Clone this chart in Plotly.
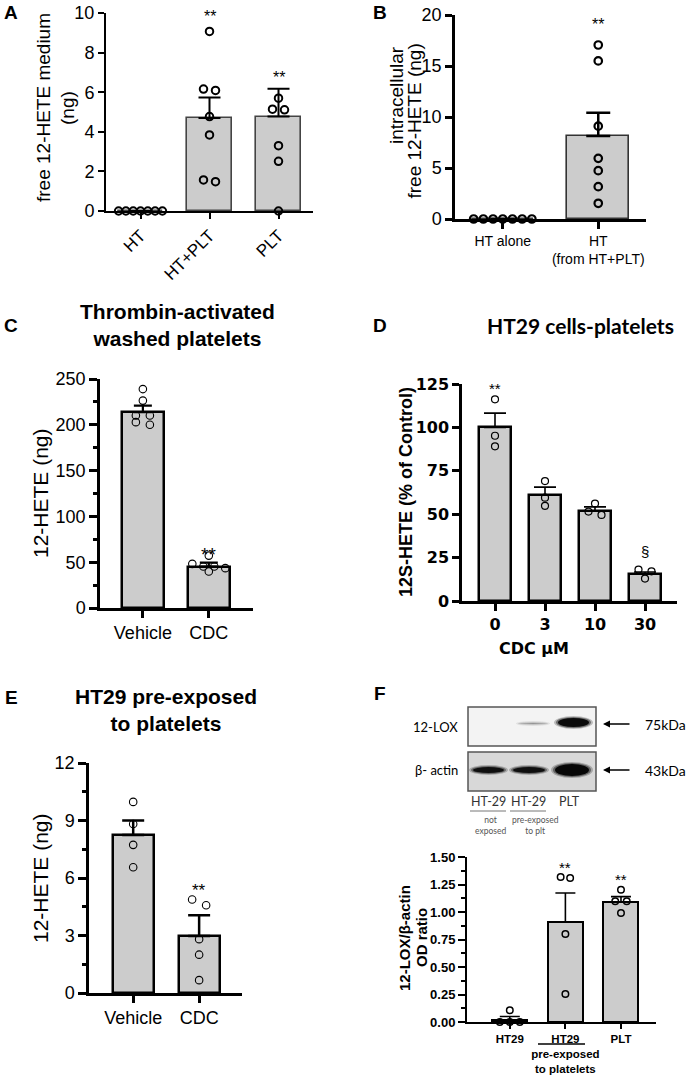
import plotly.graph_objects as go

W, H = 688, 1077


def fx(p):
    return p / W


def fy(p):
    return 1 - p / H


ARIAL = "Liberation Sans, Arial, sans-serif"
DEJA = "DejaVu Sans, sans-serif"
CALI = "Lato, sans-serif"
BAR_FILL = "#cccccc"

# ---------------- data ----------------
# Panel A
A_cats = ["HT", "HT+PLT", "PLT"]
A_mean = [0.0, 4.70, 4.77]
A_sem = [0.0, 1.03, 1.40]
A_pts_HT = [0.0, 0.0, 0.0, 0.0, 0.0, 0.0, 0.0]
A_pts_HTPLT = [9.07, 6.09, 6.16, 4.77, 3.84, 1.48, 1.57]
A_pts_PLT = [5.70, 5.14, 5.11, 3.30, 2.51, 0.0]
A_sig = ["", "**", "**"]
A_sig_y = [0, 10.05, 6.96]

# Panel B
B_cats = ["HT alone", "HT<br>(from HT+PLT)"]
B_mean = [0.0, 8.14]
B_sem = [0.0, 2.28]
B_pts_alone = [0.0, 0.0, 0.0, 0.0, 0.0, 0.0, 0.0]
B_pts_HT = [17.06, 15.5, 9.1, 5.95, 4.74, 3.17, 1.54]
B_sig = ["", "**"]
B_sig_y = [0, 19.5]

# Panel C
C_cats = ["Vehicle", "CDC"]
C_mean = [213.8, 45.3]
C_sem = [7.2, 4.3]
C_pts_veh = [239.0, 226.4, 210.1, 210.1, 200.0, 202.9]
C_pts_cdc = [57.2, 48.2, 39.9, 45.3, 43.5, 45.3]
C_sig = ["", "**"]
C_sig_y = [0, 64]

# Panel D
D_cats = ["0", "3", "10", "30"]
D_mean = [100.0, 61.1, 51.9, 15.6]
D_sem = [8.2, 4.5, 2.3, 1.1]
D_pts_0 = [116.2, 95.2, 89.1]
D_pts_3 = [69.1, 59.5, 54.8]
D_pts_10 = [56.1, 49.6, 51.5]
D_pts_30 = [18.1, 17.1, 12.9]
D_sig = ["**", "", "", "§"]
D_sig_y = [125, 0, 0, 28.3]

# Panel E
E_cats = ["Vehicle", "CDC"]
E_mean = [8.25, 2.98]
E_sem = [0.75, 1.07]
E_pts_veh = [9.97, 8.82, 7.73, 6.56]
E_pts_cdc = [4.58, 4.88, 2.81, 2.0, 0.67]
E_sig = ["", "**"]
E_sig_y = [0, 5.58]

# Panel F
F_cats = ["<b>HT29</b>", "<b>HT29<br>pre-exposed<br>to platelets</b>", "<b>PLT</b>"]
F_mean = [0.02, 0.909, 1.09]
F_sem = [0.03, 0.264, 0.05]
F_pts_HT29 = [0.106, 0.0, 0.0, 0.0]
F_pts_pre = [1.309, 1.318, 0.80, 0.255]
F_pts_PLT = [1.203, 1.097, 1.097, 0.991]
F_sig = ["", "**", "**"]
F_sig_y = [0, 1.445, 1.33]

# Western blot labels
blot_rows = ["12-LOX", "β- actin"]
blot_kda = ["75kDa", "43kDa"]
blot_lanes = ["HT-29", "HT-29", "PLT"]
blot_lane_sub = ["not<br>exposed", "pre-exposed<br>to plt", ""]


# ---------------- helpers ----------------
def swarm(vals, center, y_ppu, x_ppu, spacing, thresh):
    order = sorted(range(len(vals)), key=lambda i: -vals[i])
    rows = []
    for i in order:
        if rows and abs(vals[rows[-1][0]] - vals[i]) * y_ppu < thresh:
            rows[-1].append(i)
        else:
            rows.append([i])
    xs = [center] * len(vals)
    for row in rows:
        k = len(row)
        for j, i in enumerate(row):
            xs[i] = center + (j - (k - 1) / 2) * spacing / x_ppu
    return xs


fig = go.Figure()
layout_axes = {}
annotations = []
shapes = []


def panel(n, dom_x, dom_y, xr, yr, cats, means, sems, pts, sig, sig_y, st):
    xa = "x" if n == 1 else f"x{n}"
    ya = "y" if n == 1 else f"y{n}"
    xk = "xaxis" if n == 1 else f"xaxis{n}"
    yk = "yaxis" if n == 1 else f"yaxis{n}"
    idx = list(range(len(means)))
    fig.add_trace(go.Bar(
        x=idx, y=means, width=st["bw"], xaxis=xa, yaxis=ya,
        marker=dict(color=BAR_FILL, line=dict(color=st["bar_lc"], width=st["bar_lw"])),
        error_y=dict(type="data", symmetric=False, array=sems, arrayminus=[0] * len(sems),
                     color="black", thickness=st["eth"], width=st["ew"]),
        showlegend=False, hoverinfo="skip"))
    x_ppu = (dom_x[1] - dom_x[0]) / (xr[1] - xr[0])
    y_ppu = (dom_y[1] - dom_y[0]) / (yr[1] - yr[0])
    for i, vals in enumerate(pts):
        xs = swarm(vals, i, y_ppu, x_ppu, st["spacing"][i], st["thresh"])
        fig.add_trace(go.Scatter(
            x=xs, y=vals, mode="markers", xaxis=xa, yaxis=ya, cliponaxis=False,
            marker=dict(symbol="circle-open", size=st["ms"], color="black",
                        line=dict(width=st["mlw"], color="black")),
            showlegend=False, hoverinfo="skip"))
    # significance marks: y given in data units, converted to paper so that
    # marks at the very top of an axis are not hidden
    y_bot, y_top = fy(dom_y[1]), fy(dom_y[0])
    for i, (s, yv) in enumerate(zip(sig, sig_y)):
        if s:
            yp = y_bot + (yv - yr[0]) / (yr[1] - yr[0]) * (y_top - y_bot)
            annotations.append(dict(
                x=i, y=yp, xref=xa, yref="paper", text=s, showarrow=False,
                font=dict(family=ARIAL, size=st["sig_fs"], color="black"),
                xanchor="center", yanchor="middle",
                yshift=(-0.27 * st["sig_fs"] if s.startswith("*") else 0)))
    layout_axes[xk] = dict(
        domain=[fx(dom_x[0]), fx(dom_x[1])], range=xr, anchor=ya, automargin=False,
        showline=True, linecolor="black", linewidth=st["alw"],
        ticks="outside", ticklen=st["xtl"], tickwidth=st["alw"], tickcolor="black",
        tickvals=idx, ticktext=cats, tickangle=st.get("xangle", 0),
        tickfont=st["xfont"], showgrid=False, zeroline=False, fixedrange=True)
    yd = dict(
        domain=[y_bot, y_top], range=yr, anchor=xa, automargin=False,
        showline=True, linecolor="black", linewidth=st["alw"],
        ticks="outside", ticklen=st["ytl"], tickwidth=st["alw"], tickcolor="black",
        tickmode="linear", tick0=0, dtick=st["dtick"], tickfont=st["yfont"],
        showgrid=False, zeroline=False, fixedrange=True)
    if st.get("tickformat"):
        yd["tickformat"] = st["tickformat"]
    if st.get("minor"):
        yd["minor"] = dict(ticks="outside", dtick=st["minor"], tick0=0,
                           ticklen=st["ytl"] * 0.55, tickwidth=st["alw"], tickcolor="black",
                           showgrid=False)
    layout_axes[yk] = yd


f_ar18 = dict(family=ARIAL, size=18, color="black")

# A
panel(1, (106, 313), (13, 211), [-0.5, 2.5], [0, 10], A_cats, A_mean, A_sem,
      [A_pts_HT, A_pts_HTPLT, A_pts_PLT], A_sig, A_sig_y,
      dict(bw=0.65, bar_lc="#444444", bar_lw=1.6, eth=2, ew=11, spacing=[7.3, 12, 12], thresh=7,
           ms=7.5, mlw=2, sig_fs=16, alw=2, xtl=6, ytl=6, dtick=2, xangle=-45,
           xfont=dict(family=ARIAL, size=17, color="black"), yfont=f_ar18))
# B
panel(2, (455, 646), (15, 219), [-0.5, 1.5], [0, 20], B_cats, B_mean, B_sem,
      [B_pts_alone, B_pts_HT], B_sig, B_sig_y,
      dict(bw=0.65, bar_lc="#333333", bar_lw=1.6, eth=2.5, ew=12, spacing=[9.7, 10], thresh=7,
           ms=7.5, mlw=2.2, sig_fs=16, alw=2.5, xtl=7, ytl=7, dtick=5,
           xfont=dict(family=ARIAL, size=14, color="black"), yfont=f_ar18))
# C
panel(3, (100, 253), (379, 608), [-0.65, 1.67], [0, 250], C_cats, C_mean, C_sem,
      [C_pts_veh, C_pts_cdc], C_sig, C_sig_y,
      dict(bw=0.64, bar_lc="black", bar_lw=2.5, eth=2.2, ew=9, spacing=[14, 11], thresh=5,
           ms=7.5, mlw=1.1, sig_fs=19, alw=2.5, xtl=7, ytl=8, dtick=50, minor=25,
           xfont=f_ar18, yfont=f_ar18))
# D
f_dj = dict(family=DEJA, size=16, color="black", weight="bold")
panel(4, (462, 677), (384, 601), [-0.66, 3.64], [0, 125], D_cats, D_mean, D_sem,
      [D_pts_0, D_pts_3, D_pts_10, D_pts_30], D_sig, D_sig_y,
      dict(bw=0.63, bar_lc="black", bar_lw=2.5, eth=1.6, ew=11, spacing=[13] * 4, thresh=7,
           ms=7, mlw=1.2, sig_fs=15, alw=2.5, xtl=7, ytl=7, dtick=25,
           xfont=f_dj, yfont=f_dj))
# E
panel(5, (89, 242), (763, 993), [-0.67, 1.65], [0, 12], E_cats, E_mean, E_sem,
      [E_pts_veh, E_pts_cdc], E_sig, E_sig_y,
      dict(bw=0.62, bar_lc="black", bar_lw=2.5, eth=2.5, ew=11, spacing=[14, 14], thresh=7,
           ms=7.5, mlw=1.1, sig_fs=17, alw=2.5, xtl=7, ytl=8, dtick=3, minor=1.5,
           xfont=f_ar18, yfont=f_ar18))
# F
f_fb = dict(family=ARIAL, size=11.5, color="black", weight="bold")
panel(6, (467, 656), (857, 1022), [-0.77, 2.63], [0, 1.5], F_cats, F_mean, F_sem,
      [F_pts_HT29, F_pts_pre, F_pts_PLT], F_sig, F_sig_y,
      dict(bw=0.63, bar_lc="black", bar_lw=2, eth=1.6, ew=10, spacing=[10, 9.5, 11.5], thresh=7,
           ms=6.5, mlw=1.5, sig_fs=15, alw=2, xtl=5, ytl=7, dtick=0.25, minor=0.125,
           tickformat=".2f", xfont=f_fb, yfont=dict(family=ARIAL, size=13, color="black", weight="bold")))


def txt(x, y, text, size, family=ARIAL, bold=False, angle=0, xanchor="center",
        yanchor="middle", align="center", color="black"):
    annotations.append(dict(
        x=fx(x), y=fy(y), xref="paper", yref="paper", text=text, showarrow=False,
        textangle=angle, xanchor=xanchor, yanchor=yanchor, align=align, borderpad=0,
        font=dict(family=family, size=size, color=color, weight="bold" if bold else "normal")))


# panel letters
for lab, (x, y) in zip("ABCDEF", [(11, 12), (380, 12), (11, 325), (380, 325), (11, 697), (380, 693)]):
    txt(x, y, lab, 19, bold=True)

# titles
txt(177, 325, "Thrombin-activated<br>washed platelets", 21, bold=True)
txt(580, 325, "HT29 cells-platelets", 21, family=CALI, bold=True)
txt(166, 710, "HT29 pre-exposed<br>to platelets", 21, bold=True)

# y-axis titles (one annotation per line)
txt(43, 108, "free 12-HETE medium", 19, angle=-90)
txt(67, 108, "(ng)", 19, angle=-90)
txt(396, 45, "intracellular", 19, angle=-90, yanchor="top")
txt(414, 43, "free 12-HETE (ng)", 19, angle=-90, yanchor="top")
txt(40, 493, "12-HETE (ng)", 21, angle=-90)
txt(406, 492, "12S-HETE (% of Control)", 18, bold=True, angle=-90)
txt(40, 878, "12-HETE (ng)", 21, angle=-90)
txt(404, 938, "12-LOX/β-actin", 15, bold=True, angle=-90)
txt(421, 938, "OD ratio", 15, bold=True, angle=-90)

# D x title
annotations.append(dict(x=fx(571), y=fy(648), xref="paper", yref="paper", text="CDC µM",
                        showarrow=False, font=dict(family=DEJA, size=16, color="black", weight="bold")))

# F underline under second HT29
shapes.append(dict(type="line", xref="paper", yref="paper", x0=fx(538), x1=fx(585),
                   y0=fy(1044), y1=fy(1044), line=dict(color="black", width=1.5)))

# ---------------- Western blot (decorative image drawn with shapes) ----------------
BOX_X = (468, 596)
boxes = [(707, 746, "#f3f3f3"), (752, 791, "#d8d8d8")]
for (t, b, c) in boxes:
    shapes.append(dict(type="rect", xref="paper", yref="paper", x0=fx(BOX_X[0]), x1=fx(BOX_X[1]),
                       y0=fy(b), y1=fy(t), fillcolor=c, line=dict(color="#555555", width=1.5)))

bands = [
    # (x0, x1, y0, y1, color, opacity)
    (516, 550, 721, 726, "#777777", 0.6),
    (554, 593, 716, 729, "#000000", 0.9),
    (469, 508, 765, 775, "#000000", 0.85),
    (509, 549, 765, 775, "#000000", 0.85),
    (551, 593, 762, 778, "#000000", 0.92),
]
for (x0, x1, y0, y1, c, op) in bands:
    for k, (dx, dy, o) in enumerate([(0, 0, 0.25), (2, 1, 0.45), (4, 2, 1.0)]):
        shapes.append(dict(type="circle", xref="paper", yref="paper",
                           x0=fx(x0 + dx), x1=fx(x1 - dx), y0=fy(y1 - dy), y1=fy(y0 + dy),
                           fillcolor=c, opacity=op * o, line=dict(width=0)))

for lab, yy in zip(blot_rows, [727, 770]):
    txt(459, yy, lab, 13, family=CALI, xanchor="right")
for lab, yy in zip(blot_kda, [724, 770]):
    txt(644, yy, lab, 14, family=CALI, xanchor="left")
    annotations.append(dict(x=fx(603), y=fy(yy), xref="paper", yref="paper", text="",
                            showarrow=True, ax=28, ay=0, arrowhead=2, arrowsize=1,
                            arrowwidth=1.4, arrowcolor="black"))
for lab, xx in zip(blot_lanes, [488, 528, 569]):
    txt(xx, 801, lab, 12.5, family=CALI, color="#333333")
for sub, xx, (l0, l1) in zip(blot_lane_sub, [490, 535, 569], [(470, 506), (510, 546), (0, 0)]):
    if sub:
        txt(xx, 825, sub, 8.5, family=CALI, color="#555555")
        shapes.append(dict(type="line", xref="paper", yref="paper", x0=fx(l0), x1=fx(l1),
                           y0=fy(811), y1=fy(811), line=dict(color="#777777", width=1)))

fig.update_layout(
    template="none",
    width=W, height=H, margin=dict(l=0, r=0, t=0, b=0, pad=0, autoexpand=False),
    paper_bgcolor="white", plot_bgcolor="rgba(0,0,0,0)",
    bargap=0, annotations=annotations, shapes=shapes, showlegend=False,
    **layout_axes)

fig.write_html(
    "out.html",
    config={"displayModeBar": False},
    post_script="document.body.style.margin='0px';document.body.style.overflow='hidden';")
